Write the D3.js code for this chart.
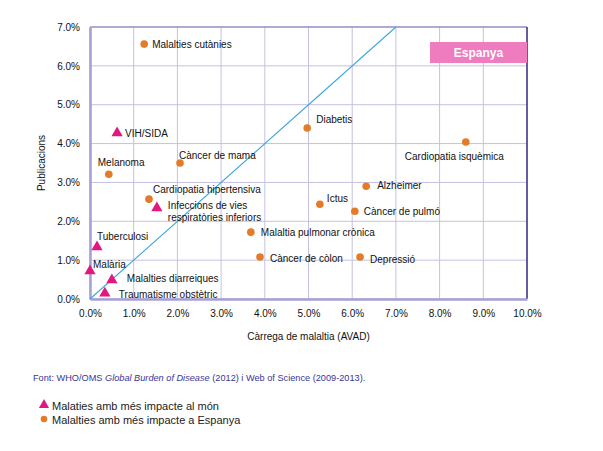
<!DOCTYPE html>
<html>
<head>
<meta charset="utf-8">
<script src="https://cdn.jsdelivr.net/npm/d3@7"></script>
<style>
  body { margin: 0; background: #fff; }
  svg text { font-family: "Liberation Sans", Arial, sans-serif; }
</style>
</head>
<body>
<svg class="chart" width="603" height="451"></svg>
<script>
// data: disease burden (% AVAD) vs share of publications (%)
var worldNames = ["VIH/SIDA", "Infeccions de vies|respiratòries inferiors", "Tuberculosi", "Malària", "Malalties diarreiques", "Traumatisme obstètric"];
var worldX = [0.62, 1.53, 0.16, 0.0, 0.50, 0.34];
var worldY = [4.27, 2.34, 1.34, 0.72, 0.49, 0.15];

var spainNames = ["Malalties cutànies", "Càncer de mama", "Melanoma", "Cardiopatia hipertensiva", "Diabetis", "Cardiopatia isquèmica", "Alzheimer", "Ictus", "Càncer de pulmó", "Malaltia pulmonar crònica", "Càncer de còlon", "Depressió"];
var spainX = [1.24, 2.06, 0.43, 1.35, 4.97, 8.60, 6.32, 5.26, 6.06, 3.68, 3.89, 6.18];
var spainY = [6.56, 3.50, 3.21, 2.57, 4.40, 4.04, 2.90, 2.44, 2.26, 1.72, 1.08, 1.08];

var xTicks = [0, 1, 2, 3, 4, 5, 6, 7, 8, 9, 10];
var yTicks = [0, 1, 2, 3, 4, 5, 6, 7];

// label placement relative to the mark
var labelOffsets = {
  "VIH/SIDA": [8, 0],
  "Infeccions de vies|respiratòries inferiors": [11, -3],
  "Tuberculosi": [0, -10],
  "Malària": [3, -7],
  "Malalties diarreiques": [15, -1],
  "Traumatisme obstètric": [14, 1],
  "Malalties cutànies": [8, 0],
  "Càncer de mama": [-1, -8],
  "Melanoma": [-11, -12],
  "Cardiopatia hipertensiva": [4, -10],
  "Diabetis": [9, -9],
  "Cardiopatia isquèmica": [-61, 14],
  "Alzheimer": [11, -1],
  "Ictus": [7, -6],
  "Càncer de pulmó": [9, 0],
  "Malaltia pulmonar crònica": [10, 0],
  "Càncer de còlon": [10, 1],
  "Depressió": [10, 2]
};

var svg = d3.select("svg.chart");
var margin = { top: 27, right: 76, bottom: 152, left: 90 };
var iwidth = 603 - margin.left - margin.right,
    iheight = 451 - margin.top - margin.bottom;
var g = svg.append("g").attr("transform", "translate(" + margin.left + "," + margin.top + ")");

var x = d3.scaleLinear().domain([0, 10]).range([0, iwidth]);
var y = d3.scaleLinear().domain([0, 7]).range([iheight, 0]);

var fmt = d => d.toFixed(1) + "%";

// grid
g.append("g").selectAll("line").data(xTicks).enter().append("line")
  .attr("x1", d => x(d)).attr("x2", d => x(d))
  .attr("y1", 0).attr("y2", iheight)
  .attr("stroke", "#c6c0e2").attr("stroke-width", 1);
g.append("g").selectAll("line").data(yTicks).enter().append("line")
  .attr("x1", 0).attr("x2", iwidth)
  .attr("y1", d => y(d)).attr("y2", d => y(d))
  .attr("stroke", "#c6c0e2").attr("stroke-width", 1);

// frame
g.append("line").attr("x1", 0).attr("x2", iwidth).attr("y1", 0).attr("y2", 0)
  .attr("stroke", "#7e72bb").attr("stroke-width", 1.2);
g.append("line").attr("x1", iwidth).attr("x2", iwidth).attr("y1", 0).attr("y2", iheight)
  .attr("stroke", "#2e2680").attr("stroke-width", 1.4);

// axes
var xAxis = g.append("g").attr("transform", "translate(0," + iheight + ")")
  .call(d3.axisBottom(x).tickValues(xTicks).tickFormat(fmt).tickSize(0).tickPadding(11));
var yAxis = g.append("g")
  .call(d3.axisLeft(y).tickValues(yTicks).tickFormat(fmt).tickSize(0).tickPadding(10));
[xAxis, yAxis].forEach(a => {
  a.select(".domain").attr("stroke", "#a79ed3").attr("stroke-width", 2.5);
  a.selectAll("text").attr("fill", "#111").style("font-size", "10px");
});

// diagonal reference line
g.append("line")
  .attr("x1", x(0)).attr("y1", y(0)).attr("x2", x(7)).attr("y2", y(7))
  .attr("stroke", "#3aa6de").attr("stroke-width", 1.1);

// Espanya box
var boxX = x(7.78);
g.append("rect").attr("x", boxX).attr("y", 15).attr("width", iwidth - boxX).attr("height", 21)
  .attr("fill", "#f07cc0");
g.append("text").attr("x", (boxX + iwidth) / 2).attr("y", 25.5).attr("dy", "0.35em")
  .attr("text-anchor", "middle").attr("fill", "#fff").attr("font-weight", "bold")
  .style("font-size", "12px").text("Espanya");

var world = worldNames.map((n, i) => ({ name: n, x: worldX[i], y: worldY[i] }));
var spain = spainNames.map((n, i) => ({ name: n, x: spainX[i], y: spainY[i] }));

g.append("g").selectAll("circle").data(spain).enter().append("circle")
  .attr("cx", d => x(d.x)).attr("cy", d => y(d.y)).attr("r", 3.8)
  .attr("fill", "#e37b28");

var tri = d3.symbol().type(d3.symbolTriangle).size(55);
g.append("g").selectAll("path").data(world).enter().append("path")
  .attr("d", tri)
  .attr("transform", d => "translate(" + x(d.x) + "," + y(d.y) + ")")
  .attr("fill", "#e2187f");

// labels
var labels = g.append("g").selectAll("text").data(world.concat(spain)).enter().append("text")
  .attr("x", d => x(d.x) + labelOffsets[d.name][0])
  .attr("y", d => y(d.y) + labelOffsets[d.name][1])
  .attr("fill", "#111").style("font-size", "10px");
labels.each(function(d) {
  var parts = d.name.split("|");
  var t = d3.select(this);
  parts.forEach((p, i) => {
    t.append("tspan").attr("x", x(d.x) + labelOffsets[d.name][0])
      .attr("dy", i == 0 ? "0.35em" : "1.2em").text(p);
  });
});

// axis titles
svg.append("text").attr("x", margin.left + iwidth / 2).attr("y", 340)
  .attr("text-anchor", "middle").attr("fill", "#111").style("font-size", "10px")
  .text("Càrrega de malaltia (AVAD)");
svg.append("text").attr("transform", "translate(45," + (margin.top + iheight / 2) + ") rotate(-90)")
  .attr("text-anchor", "middle").attr("fill", "#111").style("font-size", "10px")
  .text("Publicacions");

// source
var src = svg.append("text").attr("x", 33).attr("y", 381).attr("fill", "#3a3596").style("font-size", "9.2px");
src.append("tspan").text("Font: WHO/OMS ");
src.append("tspan").attr("font-style", "italic").text("Global Burden of Disease");
src.append("tspan").text(" (2012) i Web of Science (2009-2013).");

// legend
var lg = svg.append("g");
lg.append("path").attr("d", d3.symbol().type(d3.symbolTriangle).size(45))
  .attr("transform", "translate(44,405)").attr("fill", "#e2187f");
lg.append("text").attr("x", 52).attr("y", 406).attr("dy", "0.35em").attr("fill", "#222")
  .style("font-size", "11px").text("Malaties amb més impacte al món");
lg.append("circle").attr("cx", 44).attr("cy", 419).attr("r", 3.3).attr("fill", "#e37b28");
lg.append("text").attr("x", 52).attr("y", 420).attr("dy", "0.35em").attr("fill", "#222")
  .style("font-size", "11px").text("Malalties amb més impacte a Espanya");
</script>
</body>
</html>
